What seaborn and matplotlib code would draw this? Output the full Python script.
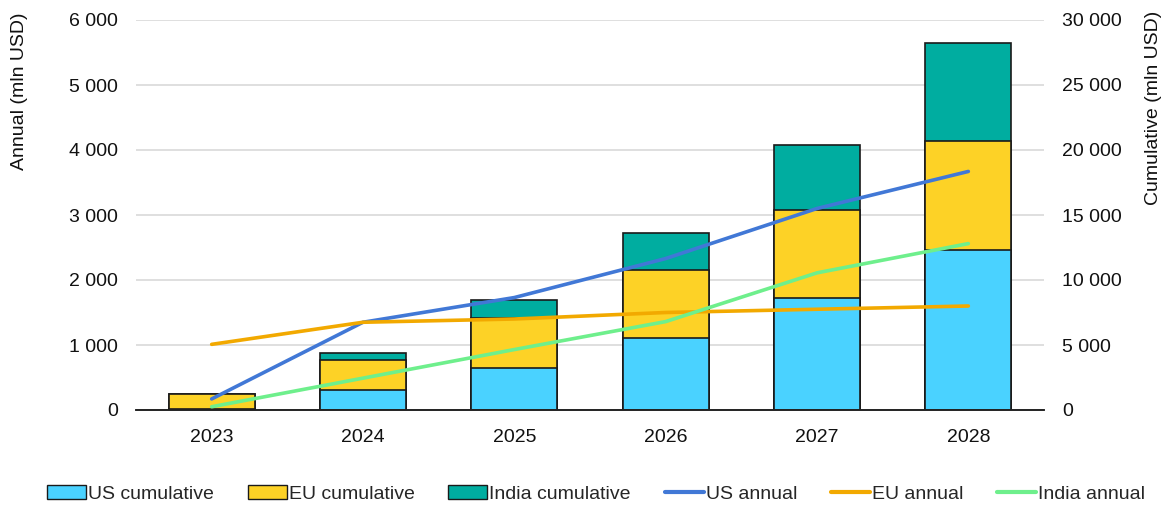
import matplotlib
matplotlib.use("Agg")
import matplotlib.pyplot as plt
from matplotlib.ticker import FuncFormatter, MultipleLocator
from matplotlib.patches import Patch
from matplotlib.lines import Line2D
import seaborn as sns
import pandas as pd

years = ["2023", "2024", "2025", "2026", "2027", "2028"]

# Cumulative values (mln USD), right axis
us_cum = [100, 1540, 3200, 5510, 8620, 12310]
eu_cum = [1100, 2280, 3850, 5260, 6760, 8380]
india_cum = [30, 590, 1390, 2820, 4980, 7540]

# Annual values (mln USD), left axis
us_annual = [170, 1350, 1730, 2330, 3100, 3670]
eu_annual = [1010, 1350, 1400, 1500, 1550, 1600]
india_annual = [50, 490, 930, 1360, 2110, 2560]

C_US_CUM = "#4AD2FF"
C_EU_CUM = "#FDD226"
C_IN_CUM = "#00ADA0"
C_US_AN = "#4178D6"
C_EU_AN = "#F2A900"
C_IN_AN = "#6EEF8C"
EDGE = "#1a1a1a"
TXT = "#111111"
FS = 14

sns.set_theme(style="white")
plt.rcParams["font.family"] = ["Liberation Sans", "DejaVu Sans"]

fig = plt.figure(figsize=(11.69, 5.07), dpi=100)
ax = fig.add_axes([136 / 1169, 1 - 410 / 507, 908 / 1169, 390 / 507])
ax2 = ax.twinx()

df = pd.DataFrame({
    "year": years,
    "us": us_cum,
    "eu_top": [u + e for u, e in zip(us_cum, eu_cum)],
    "total": [u + e + i for u, e, i in zip(us_cum, eu_cum, india_cum)],
})

# Stacked cumulative bars: draw tallest layer first, then overlay lower layers
for col, color in [("total", C_IN_CUM), ("eu_top", C_EU_CUM), ("us", C_US_CUM)]:
    sns.barplot(data=df, x="year", y=col, color=color, width=0.57,
                edgecolor=EDGE, linewidth=1.2, saturation=1, ax=ax2, zorder=2)

ax2.set_ylim(0, 30000)
ax2.yaxis.set_major_locator(MultipleLocator(5000))
ax2.grid(axis="y", color="#d9d9d9", linewidth=1.2, zorder=0)
ax2.set_axisbelow(True)

# Annual lines on the left axis, drawn above the bars
lines_df = pd.DataFrame({
    "pos": list(range(len(years))) * 3,
    "value": us_annual + eu_annual + india_annual,
    "series": ["US annual"] * 6 + ["EU annual"] * 6 + ["India annual"] * 6,
})
sns.lineplot(data=lines_df, x="pos", y="value", hue="series",
             palette={"US annual": C_US_AN, "EU annual": C_EU_AN, "India annual": C_IN_AN},
             linewidth=2.6, legend=False, ax=ax, solid_capstyle="round")
ax.set_ylim(0, 6000)
ax.set_xlim(-0.5, len(years) - 0.5)
ax.yaxis.set_major_locator(MultipleLocator(1000))
ax.set_zorder(ax2.get_zorder() + 1)
ax.patch.set_visible(False)
ax.set_xticks(range(len(years)))
ax.set_xticklabels(years)
ax2.set_xlim(-0.5, len(years) - 0.5)

fmt = FuncFormatter(lambda v, p: f"{int(v):,}".replace(",", " "))
ax.yaxis.set_major_formatter(fmt)
ax2.yaxis.set_major_formatter(fmt)

for a in (ax, ax2):
    for s in ("top", "left", "right"):
        a.spines[s].set_visible(False)
    a.spines["bottom"].set_color("#222222")
    a.spines["bottom"].set_linewidth(1.2)
    a.tick_params(axis="y", length=0, labelsize=FS, colors=TXT, pad=13)
    a.tick_params(axis="x", length=0, labelsize=FS, colors=TXT, pad=14)
    a.set_xlabel("")
    a.set_ylabel("")

# Axis titles, aligned to the top of the plot area
fig.text(20 / 1169, 1 - 12 / 507, "Annual (mln USD)", rotation=90,
         ha="center", va="top", fontsize=FS, color=TXT)
fig.text(1153 / 1169, 1 - 11 / 507, "Cumulative (mln USD)", rotation=90,
         ha="center", va="top", fontsize=FS, color=TXT)

handles = [
    Patch(facecolor=C_US_CUM, edgecolor=EDGE, label="US cumulative"),
    Patch(facecolor=C_EU_CUM, edgecolor=EDGE, label="EU cumulative"),
    Patch(facecolor=C_IN_CUM, edgecolor=EDGE, label="India cumulative"),
    Line2D([], [], color=C_US_AN, linewidth=3, label="US annual"),
    Line2D([], [], color=C_EU_AN, linewidth=3, label="EU annual"),
    Line2D([], [], color=C_IN_AN, linewidth=3, label="India annual"),
]
fig.legend(handles=handles, loc="center", bbox_to_anchor=(596 / 1169, 1 - 494 / 507),
           ncol=6, frameon=False, fontsize=FS, handlelength=2.0, handleheight=0.75,
           handletextpad=0.1, columnspacing=1.75, borderpad=0)

fig.savefig("out.png", dpi=100)
